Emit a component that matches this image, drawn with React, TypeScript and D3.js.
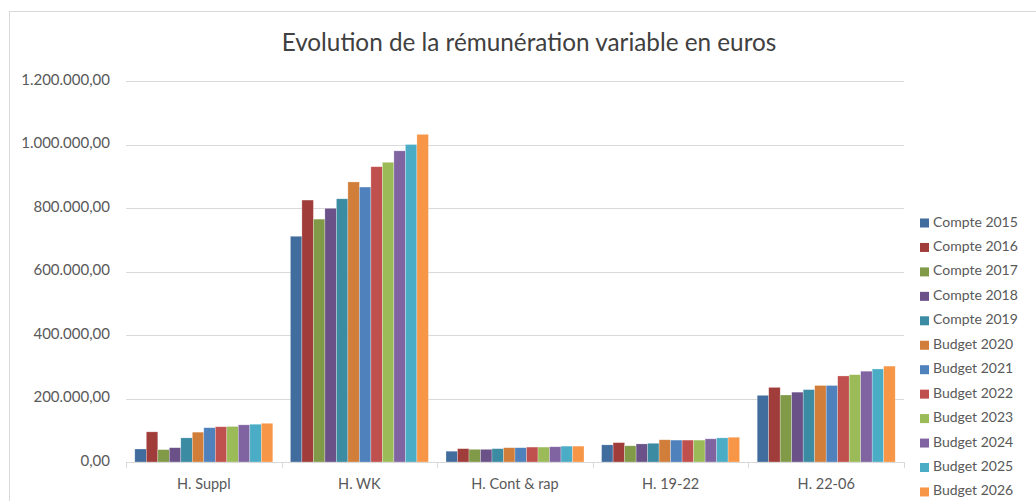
import React from "react";
import * as d3 from "d3";

const categories = ["H. Suppl", "H. WK", "H. Cont & rap", "H. 19-22", "H. 22-06"];
const seriesNames = [
  "Compte 2015", "Compte 2016", "Compte 2017", "Compte 2018", "Compte 2019",
  "Budget 2020", "Budget 2021", "Budget 2022", "Budget 2023", "Budget 2024",
  "Budget 2025", "Budget 2026",
];
const seriesColors = [
  "#416C9E", "#A03D3B", "#809A48", "#6A5188", "#3B8BA3", "#D07E3A",
  "#4F81BD", "#C0504D", "#9BBB59", "#8064A2", "#4BACC6", "#F79646",
];
// values per series, in category order
const compte2015 = [41000, 711000, 34000, 54000, 210000];
const compte2016 = [95000, 825000, 42000, 61000, 235000];
const compte2017 = [39000, 765000, 40000, 51000, 211000];
const compte2018 = [45000, 799000, 40000, 57000, 220000];
const compte2019 = [76000, 829000, 42000, 59000, 228000];
const budget2020 = [94000, 882000, 45000, 70000, 241000];
const budget2021 = [108000, 866000, 45000, 69000, 241000];
const budget2022 = [111000, 930000, 47000, 69000, 271000];
const budget2023 = [112000, 944000, 47000, 69000, 275000];
const budget2024 = [117000, 980000, 48000, 73000, 286000];
const budget2025 = [119000, 1000000, 50000, 76000, 293000];
const budget2026 = [122000, 1032000, 50000, 78000, 302000];
const seriesValues = [
  compte2015, compte2016, compte2017, compte2018, compte2019, budget2020,
  budget2021, budget2022, budget2023, budget2024, budget2025, budget2026,
];
const yTicks = [0, 200000, 400000, 600000, 800000, 1000000, 1200000];
const title = "Evolution de la rémunération variable en euros";

const W = 1036;
const H = 501;
const FONT = "Lato, 'Open Sans', sans-serif";

const fmt = (v: number) => {
  const s = d3.format(",.2f")(v);
  return s.replace(/,/g, "#").replace(/\./g, ",").replace(/#/g, ".");
};

export default function App() {
  const x0 = d3.scaleBand().domain(categories).range([126, 904]).paddingInner(0).paddingOuter(0);
  const x1 = d3
    .scaleBand()
    .domain(seriesNames)
    .range([0, x0.bandwidth()])
    .paddingInner(0)
    .paddingOuter(0.765);
  const y = d3.scaleLinear().domain([0, 1200000]).range([462, 81]);

  return (
    <svg
      width={W}
      height={H}
      style={{ position: "absolute", left: 0, top: 0, background: "#fff" }}
    >
      <rect x={9.5} y={11.5} width={W + 20} height={H + 20} fill="#fff" stroke="#d9d9d9" />
      <text x={529} y={45} textAnchor="middle" dominantBaseline="middle" fontFamily={FONT} fontSize={24.3} fill="#404040">
        {title}
      </text>
      {yTicks.map((t) => (
        <g key={t}>
          {t > 0 && (
            <line x1={126} x2={904} y1={Math.round(y(t)) + 0.5} y2={Math.round(y(t)) + 0.5} stroke="#d9d9d9" />
          )}
          <text x={110} y={y(t)} textAnchor="end" dominantBaseline="middle" fontFamily={FONT} fontSize={15} fill="#595959">
            {fmt(t)}
          </text>
        </g>
      ))}
      {categories.map((c, ci) => (
        <g key={c}>
          {seriesNames.map((s, si) => {
            const v = seriesValues[si][ci];
            return (
              <rect
                key={s}
                x={(x0(c) as number) + (x1(s) as number)}
                y={y(v)}
                width={x1.bandwidth()}
                height={y(0) - y(v)}
                fill={seriesColors[si]}
                stroke="rgba(255,255,255,0.45)"
                strokeWidth={0.6}
              />
            );
          })}
          <text x={(x0(c) as number) + x0.bandwidth() / 2} y={485} textAnchor="middle" dominantBaseline="middle" fontFamily={FONT} fontSize={14.5} fill="#595959">
            {c}
          </text>
        </g>
      ))}
      <line x1={126} x2={904} y1={462.5} y2={462.5} stroke="#d9d9d9" />
      {[...categories.map((c) => x0(c) as number), 904].map((xv, i) => (
        <line key={i} x1={Math.round(xv) + 0.5} x2={Math.round(xv) + 0.5} y1={462} y2={468} stroke="#d9d9d9" />
      ))}
      {seriesNames.map((s, i) => {
        const cy = 223 + i * 24.45;
        return (
          <g key={s}>
            <rect x={920} y={cy - 4.5} width={9} height={9} fill={seriesColors[i]} />
            <text x={933} y={cy} dominantBaseline="middle" fontFamily={FONT} fontSize={14} fill="#595959">
              {s}
            </text>
          </g>
        );
      })}
    </svg>
  );
}
